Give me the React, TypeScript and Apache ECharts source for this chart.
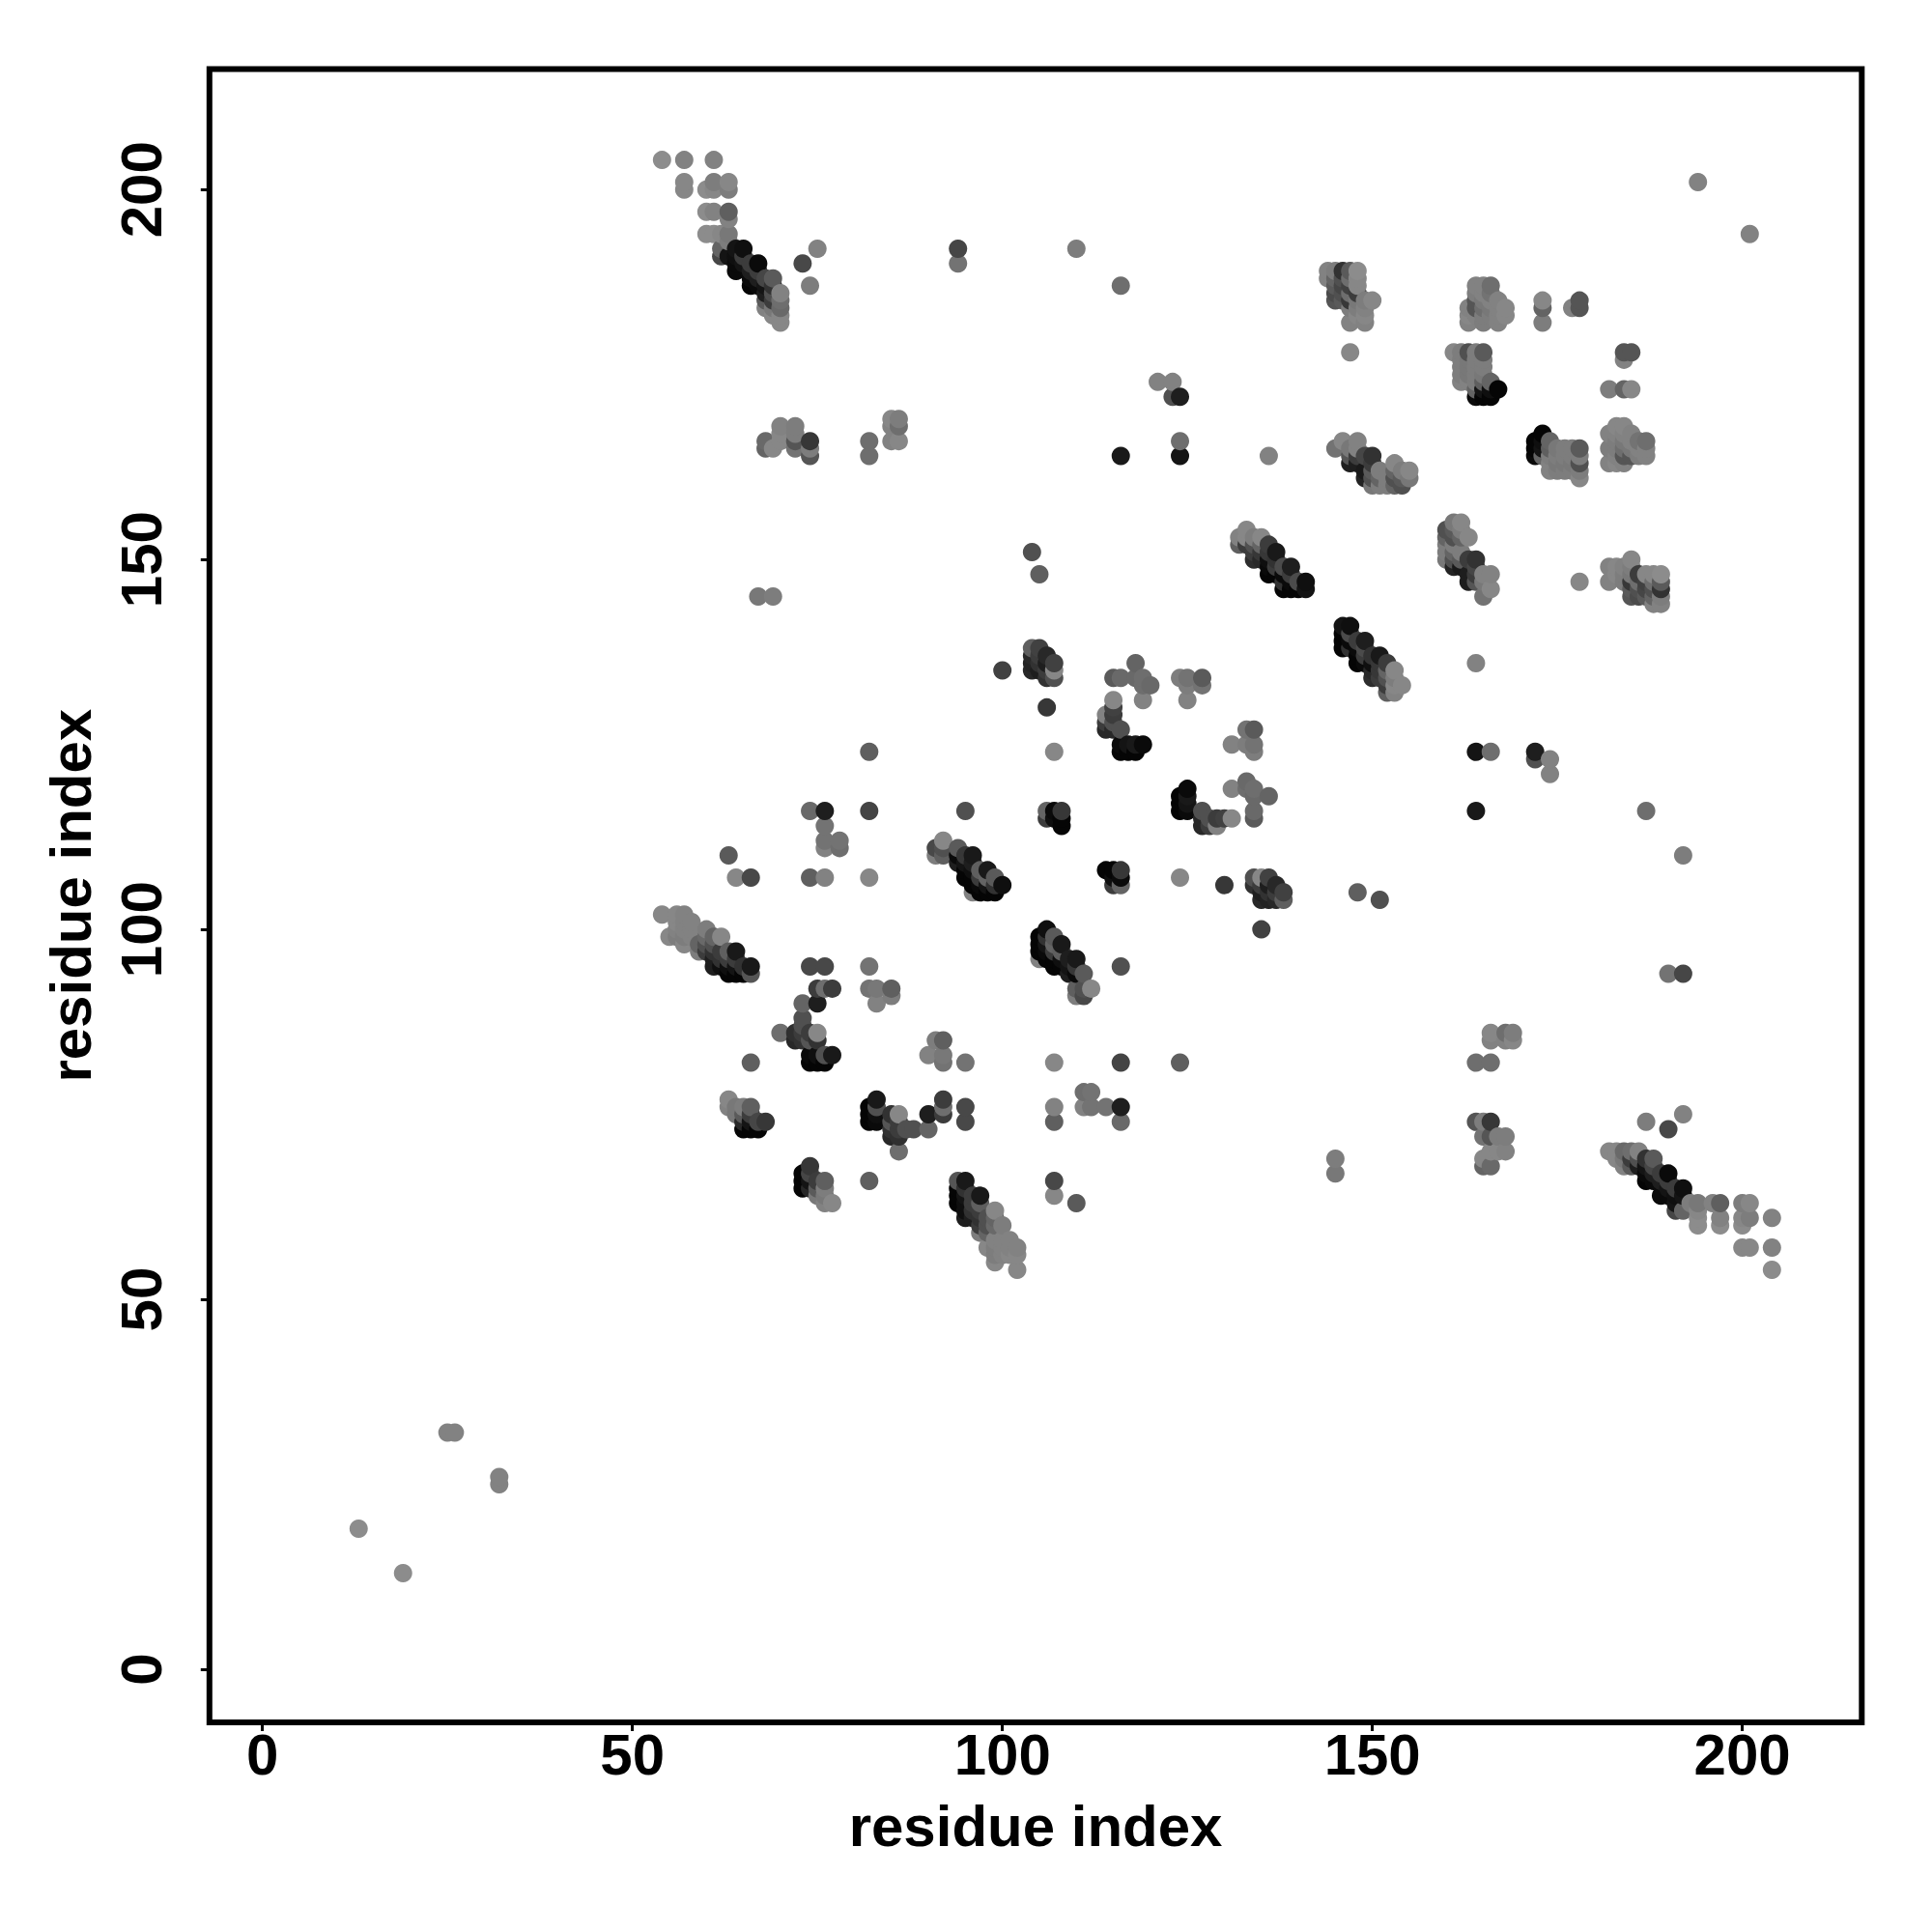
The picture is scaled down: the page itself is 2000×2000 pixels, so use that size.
import React, { useEffect, useRef } from "react";
import * as echarts from "echarts";

// Each contact: [residue i, residue j, grey level]; the map is symmetric.
type Contact = [number, number, number];

const tickValues = [0, 50, 100, 150, 200];
const axisTitle = "residue index";

const isolated: Contact[] = [
  [13,19,140],[25,32,130],[26,32,130],[67,145,120],[69,145,125],[104,151,80],[105,148,95],
  [75,192,130],[73,190,72],[74,187,125],[94,192,70],[94,190,115],[110,192,125],[116,187,110],
  [116,164,25],[124,164,20],[124,166,110],[121,174,130],[123,174,130],[123,172,80],[124,172,30],[136,164,130],
  [194,201,130],[147,178,135],[173,185,135],[173,184,100],[173,182,125],[177,184,130],[178,185,85],[178,184,85],
  [63,110,90],[64,107,135],[66,107,72],[66,82,95],[74,107,95],[76,107,130],[74,116,105],[76,116,30],
  [76,114,115],[76,112,115],[76,111,130],[78,112,115],[78,111,110],[82,95,115],[82,107,135],[82,116,68],[82,124,95],
  [95,116,80],[107,124,135],[106,130,55],[100,135,65],[135,100,65],
  [164,124,30],[166,124,120],[172,124,40],[172,123,100],[174,123,130],[174,121,135],[164,116,40],[187,116,110],[192,110,130],[192,94,72],[190,94,115],[164,136,130],
];

const hairpin5464: Contact[] = [
  [54,204,140],[57,204,130],[61,204,130],[57,201,135],[57,200,135],[61,201,125],[63,201,135],[60,200,140],[61,200,135],[63,200,125],
  [60,197,140],[61,197,130],[63,197,95],[63,196,130],[60,194,140],[61,194,140],[62,194,135],[63,194,120],[63,193,125],
  [62,192,100],[62,191,70],[63,191,20],[64,192,20],[65,192,15],[64,191,15],[65,191,60],[64,190,10],[64,189,10],[65,190,20],[66,190,60],
  [67,190,10],[66,189,30],[66,188,10],[67,188,30],[67,189,60],[66,187,5],[67,187,10],[68,188,70],[69,188,90],[68,187,20],[69,187,50],
  [68,186,30],[69,186,80],[70,186,130],[68,185,90],[69,185,60],[70,185,110],[68,184,130],[69,184,120],[70,184,105],[69,183,135],[70,183,135],[70,182,135],
];

const rowNear166: Contact[] = [
  [68,166,105],[68,165,100],[69,165,135],[70,168,130],[70,167,135],[70,166,135],[72,168,125],[72,167,125],[72,166,85],[72,165,115],
  [74,166,55],[74,165,125],[74,164,85],[82,166,110],[82,164,110],[85,169,135],[86,169,125],[85,168,130],[86,168,110],[85,166,130],[86,166,135],
];

const cluster144: Contact[] = [
  [144,189,130],[145,189,125],[146,189,50],[147,189,90],[148,189,140],[144,188,130],[145,188,100],[146,188,80],[147,188,110],[148,188,135],
  [145,187,90],[146,187,70],[147,187,65],[148,187,135],[145,186,75],[146,186,80],[147,186,110],[148,186,60],
  [145,185,85],[146,185,90],[147,185,55],[148,185,120],[149,185,125],[150,185,135],[147,184,125],[148,184,125],[149,184,130],
  [148,183,135],[149,183,135],[147,182,130],[149,182,130],
];

const cluster163: Contact[] = [
  [164,187,130],[165,187,130],[166,187,110],[164,186,125],[165,186,130],[166,186,115],[163,184,130],[164,185,85],[164,184,85],[165,185,120],
  [165,184,110],[166,185,130],[167,185,130],[166,184,120],[167,184,130],[168,184,135],[163,183,135],[164,183,130],[165,183,125],[166,183,125],
  [167,183,130],[168,183,135],[163,182,130],[165,182,125],[167,182,130],
];

const cluster161: Contact[] = [
  [161,178,135],[162,178,125],[163,178,80],[164,178,125],[165,178,90],[162,177,125],[163,177,120],[164,177,125],[165,177,125],
  [162,176,125],[163,176,120],[164,176,125],[165,176,125],[162,175,125],[163,175,120],[164,175,125],[165,175,120],
  [162,174,130],[163,174,130],[164,174,125],[165,174,95],[166,174,100],[164,173,100],[165,173,20],[166,173,15],[167,173,5],
  [164,172,10],[165,172,5],[166,172,5],
];

const cluster145: Contact[] = [
  [145,165,115],[146,166,135],[147,165,120],[148,166,130],[147,164,85],[147,163,30],[148,165,130],[148,164,60],[148,163,30],[149,164,70],
  [150,164,50],[149,162,25],[149,161,35],[150,163,60],[150,162,90],[151,162,125],[150,161,80],[151,161,100],[150,160,120],[151,160,125],
  [152,160,125],[152,161,125],[153,160,100],[154,160,80],[153,163,135],[153,162,100],[154,162,125],[155,162,135],[153,161,80],[154,161,90],[155,161,120],
];

const strand132: Contact[] = [
  [133,154,135],[132,153,130],[132,152,95],[133,153,135],[133,152,60],[134,153,125],[135,153,135],[134,152,80],[134,151,60],[134,150,45],
  [135,152,100],[135,151,55],[135,150,40],[136,152,60],[136,151,55],[137,151,25],[136,150,15],[137,150,50],[136,149,10],[136,148,5],
  [137,149,60],[137,148,5],[138,149,75],[138,148,10],[138,147,50],[139,149,30],[139,148,60],[138,146,5],[139,147,10],[139,146,5],
  [140,147,75],[140,146,5],[141,147,15],[141,146,20],
];

const strand91: Contact[] = [
  [92,112,135],[91,111,72],[91,110,125],[92,111,80],[92,110,95],[94,111,90],[94,110,10],[95,110,55],[96,110,25],[94,109,30],[95,109,20],[96,109,30],
  [95,108,5],[95,107,5],[96,108,15],[97,108,95],[98,108,25],[96,107,5],[97,107,60],[96,106,5],[97,106,10],[98,107,100],[98,106,20],[99,107,90],
  [99,106,50],[100,106,15],[96,105,130],[97,105,5],[98,105,5],[99,105,5],
];

const strand54: Contact[] = [
  [54,102,135],[56,102,135],[57,102,130],[56,101,135],[57,101,130],[58,101,130],[56,100,130],[57,100,130],[58,100,130],[60,100,125],
  [55,99,135],[56,99,125],[57,99,125],[58,99,130],[60,99,105],[61,99,100],[62,99,135],[57,98,135],[59,98,100],[60,98,80],[61,98,80],
  [59,97,125],[60,97,60],[61,97,50],[62,97,60],[63,97,95],[64,97,25],[61,96,30],[62,96,50],[63,96,60],[64,96,60],[61,95,30],[62,95,15],
  [63,95,15],[64,95,20],[65,95,50],[66,95,25],[63,94,5],[64,94,5],[65,94,5],[66,94,85],
];

const group63: Contact[] = [
  [63,77,135],[63,76,130],[64,76,120],[64,75,120],[65,76,125],[65,75,90],[66,76,95],[66,75,60],[65,74,40],[65,73,5],[66,74,20],[66,73,5],
  [67,74,70],[67,73,5],[68,74,55],
];

const group70: Contact[] = [
  [74,95,72],[76,95,72],[75,92,60],[76,92,110],[77,92,60],[73,90,100],[75,90,30],[73,88,80],[73,87,80],[72,86,48],[72,85,40],[70,86,110],
  [73,86,60],[73,85,50],[74,85,85],[74,86,60],[75,86,135],[75,85,50],[74,83,10],[74,82,5],[75,83,15],[75,82,5],[76,83,80],[76,82,5],[77,83,25],
  [82,92,115],[83,92,120],[85,92,95],[85,91,125],[83,90,130],
];

const group104: Contact[] = [
  [104,138,95],[105,138,65],[104,137,40],[105,137,60],[106,137,40],[104,136,35],[105,136,50],[106,136,30],[107,136,65],[104,135,40],
  [105,135,30],[106,135,60],[107,135,135],[106,134,50],[107,134,80],[106,116,100],[107,116,10],[108,116,55],[106,115,60],[107,115,15],[108,115,5],[108,114,5],
];

const group114: Contact[] = [
  [115,134,90],[116,134,105],[118,136,100],[118,134,105],[119,134,110],[119,133,110],[120,133,105],[119,131,130],[124,134,125],[125,134,115],
  [127,134,90],[125,133,125],[127,133,115],[125,131,130],[115,131,135],[115,130,65],[114,129,130],[114,128,60],[115,129,60],[115,128,80],
  [114,127,40],[115,127,40],[116,127,80],[116,125,10],[116,124,5],[117,125,20],[117,124,5],[118,125,25],[118,124,5],[119,125,10],
];

const contacts: Contact[] = [
  ...isolated, ...hairpin5464, ...rowNear166, ...cluster144, ...cluster163, ...cluster161, ...cluster145,
  ...strand132, ...strand91, ...strand54, ...group63, ...group70, ...group104, ...group114,
];

const seen = new Set<string>();
const points: Contact[] = [];
for (const [i, j, g] of contacts) {
  for (const [a, b] of [[i, j], [j, i]]) {
    const key = a + "," + b;
    if (!seen.has(key)) {
      seen.add(key);
      points.push([a, b, g]);
    }
  }
}
points.sort((p, q) => p[0] - q[0] || p[1] - q[1]);

const FONT = "Liberation Sans";

export default function App() {
  const ref = useRef<HTMLDivElement>(null);
  useEffect(() => {
    const chart = echarts.init(ref.current!, undefined, { renderer: "svg" });
    const label = { fontFamily: FONT, fontWeight: "bold" as const, fontSize: 60, color: "#000" };
    chart.setOption({
      animation: false,
      backgroundColor: "#fff",
      grid: {
        show: true, left: 216.8, top: 71.4, width: 1710.5, height: 1711.6,
        borderColor: "#000", borderWidth: 6, backgroundColor: "transparent", containLabel: false,
      },
      xAxis: {
        type: "value", min: -7.167, max: 216.14,
        name: axisTitle, nameLocation: "middle", nameGap: 77,
        nameTextStyle: label,
        splitLine: { show: false }, axisLine: { show: false, onZero: false },
        axisTick: { show: true, length: 9, lineStyle: { color: "#000", width: 3 }, customValues: tickValues },
        axisLabel: { ...label, margin: 3, customValues: tickValues, formatter: (v: number) => String(v) },
      },
      yAxis: {
        type: "value", min: -7.18, max: 216.3,
        name: axisTitle, nameLocation: "middle", nameGap: 113,
        nameTextStyle: label,
        splitLine: { show: false }, axisLine: { show: false, onZero: false },
        axisTick: { show: true, length: 9, lineStyle: { color: "#000", width: 3 }, customValues: tickValues },
        axisLabel: { ...label, rotate: 90, margin: 40, customValues: tickValues, formatter: (v: number) => String(v) },
      },
      series: [{
        type: "scatter",
        symbol: "circle",
        symbolSize: 19,
        clip: false,
        data: points.map(([x, y, g]) => ({
          value: [x, y],
          itemStyle: { color: `rgb(${g},${g},${g})`, opacity: 1 },
        })),
      }],
    });
    return () => chart.dispose();
  }, []);
  return <div ref={ref} style={{ position: "absolute", left: 0, top: 0, width: 2000, height: 2000 }} />;
}
